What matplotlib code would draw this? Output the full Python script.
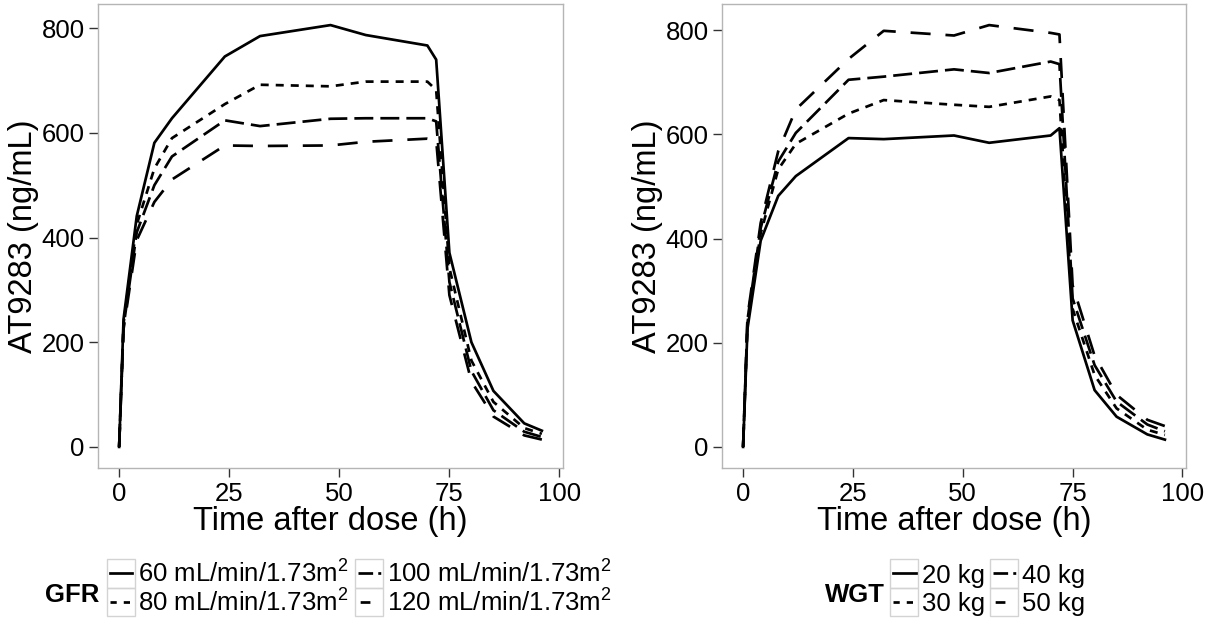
import matplotlib
matplotlib.use('Agg')
import matplotlib.pyplot as plt
from matplotlib.lines import Line2D
from matplotlib.patches import Rectangle

plt.rcParams['font.family'] = ['Liberation Sans', 'DejaVu Sans']
plt.rcParams['mathtext.default'] = 'regular'

# ---------------- data ----------------
time_h = [0, 1, 4, 8, 12, 24, 32, 48, 56, 70, 72, 75, 80, 85, 92, 96]

gfr_levels = ['60', '80', '100', '120']
gfr_60 = [0, 244, 441, 581, 628, 746, 785, 806, 787, 767, 740, 371, 200, 107, 45, 31]
gfr_80 = [0, 236, 425, 532, 590, 655, 692, 689, 698, 698, 682, 342, 165, 86, 36, 25]
gfr_100 = [0, 230, 410, 500, 555, 624, 613, 627, 628, 628, 622, 315, 145, 70, 29, 19]
gfr_120 = [0, 225, 395, 468, 511, 576, 575, 576, 583, 589, 586, 290, 125, 58, 22, 14]

wgt_levels = ['20', '30', '40', '50']
wgt_20 = [0, 227, 396, 482, 520, 593, 591, 598, 584, 598, 612, 243, 109, 58, 24, 14]
wgt_30 = [0, 238, 410, 533, 582, 640, 666, 657, 653, 673, 666, 265, 138, 74, 33, 23]
wgt_40 = [0, 244, 420, 548, 603, 705, 711, 725, 718, 740, 735, 285, 157, 87, 43, 30]
wgt_50 = [0, 250, 430, 568, 648, 745, 799, 790, 810, 795, 792, 310, 175, 100, 52, 40]

x_ticks = [0, 25, 50, 75, 100]
y_ticks = [0, 200, 400, 600, 800]
x_title = 'Time after dose (h)'
y_title = 'AT9283 (ng/mL)'

# ---------------- style ----------------
LW = 1.95
line_styles = ['-', (0, (2.95, 2.6)), (0, (7.0, 2.6)), (0, (7.4, 5.5))]
key_styles = ['-', (0, (2.3, 2.6)), (0, (5.4, 1.9, 1.1, 4.0)), (11.8, (3.6, 9.0))]

W, H = 1219, 625
fig = plt.figure(figsize=(W / 100, H / 100), dpi=100)


def fx(x):
    return x / W


def fy(y):
    return 1 - y / H


def setup_axes(ax, series):
    for vals, st in zip(series, line_styles):
        ax.plot(time_h, vals, color='black', lw=LW, linestyle=st,
                solid_joinstyle='round', dash_joinstyle='round')
    allv = [v for s in series for v in s]
    vmin, vmax = min(allv), max(allv)
    rv = vmax - vmin
    tmin, tmax = min(time_h), max(time_h)
    rt = tmax - tmin
    ax.set_xlim(tmin - 0.05 * rt, tmax + 0.05 * rt)
    ax.set_ylim(vmin - 0.05 * rv, vmax + 0.05 * rv)
    ax.set_xticks(x_ticks)
    ax.set_yticks(y_ticks)
    for sp in ax.spines.values():
        sp.set_color('#b5b5b5')
        sp.set_linewidth(1.0)
    ax.tick_params(direction='out', length=6.5, width=1.0, color='#333333',
                   labelsize=18.5, labelcolor='black')
    ax.tick_params(axis='y', pad=3)
    ax.tick_params(axis='x', pad=3.5)
    ax.set_xlabel(x_title, fontsize=23.5, labelpad=0)
    ax.set_ylabel(y_title, fontsize=23.5, labelpad=2)


axL = fig.add_axes([fx(98), fy(468), 465 / W, 464 / H])
axR = fig.add_axes([fx(722), fy(468), 464 / W, 464 / H])
setup_axes(axL, [gfr_60, gfr_80, gfr_100, gfr_120])
setup_axes(axR, [wgt_20, wgt_30, wgt_40, wgt_50])


def draw_legend(title, title_x, box_cols, text_cols, labels):
    top = 559.0
    bh = 28.6
    bw = 28.3
    fig.text(fx(title_x), fy(601.5), title, fontsize=18.5, fontweight='bold',
             ha='left', va='baseline')
    for i, (lab, st) in enumerate(zip(labels, key_styles)):
        col, row = i // 2, i % 2
        bx = box_cols[col]
        by = top + row * bh
        fig.add_artist(Rectangle((fx(bx), fy(by + bh)), bw / W, bh / H,
                                 transform=fig.transFigure, fill=False,
                                 edgecolor='#d3d3d3', lw=1.0))
        fig.add_artist(Line2D([fx(bx + 2.8), fx(bx + bw - 2.8)],
                              [fy(by + bh / 2)] * 2,
                              transform=fig.transFigure, color='black',
                              lw=LW, linestyle=st))
        fig.text(fx(text_cols[col]), fy(by + bh / 2 + 9.6), lab,
                 fontsize=18.5, ha='left', va='baseline')


draw_legend('GFR', 45, [106.7, 355], [138.3, 386.7],
            [f'{g} mL/min/1.73m$^2$' for g in gfr_levels])
draw_legend('WGT', 825, [890, 990], [921.7, 1021.7],
            [f'{w} kg' for w in wgt_levels])

fig.savefig('out.png', dpi=100)
